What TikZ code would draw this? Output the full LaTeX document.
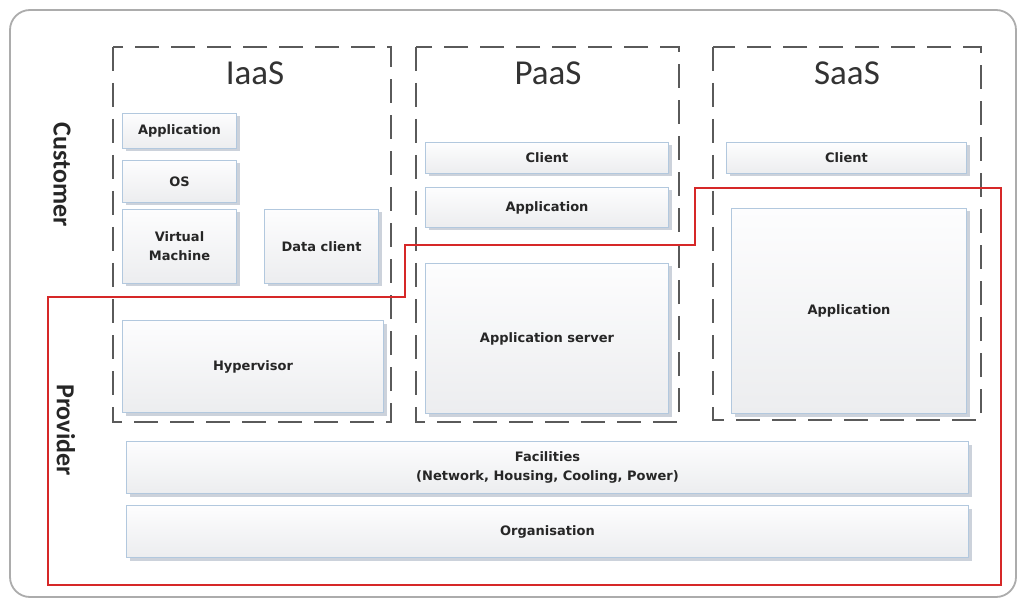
\documentclass[tikz,border=0pt]{standalone}
\usepackage{fontspec}
\setmainfont{Carlito}
\newfontfamily\boxfont{DejaVu Sans}
\usetikzlibrary{shadows}
\definecolor{boxborder}{RGB}{178,200,222}
\definecolor{boxtop}{RGB}{253,253,254}
\definecolor{boxbot}{RGB}{236,237,239}
\definecolor{shadowc}{RGB}{170,180,195}
\definecolor{dashc}{RGB}{90,90,90}
\definecolor{redline}{RGB}{214,40,40}
\tikzset{
  layerbox/.style={draw=boxborder, line width=1pt, top color=boxtop, bottom color=boxbot,
    inner sep=0pt, anchor=north west, align=center, font=\boxfont\fontsize{13}{19}\selectfont\bfseries,
    text=black!85, drop shadow={shadow xshift=3pt, shadow yshift=-3pt, fill=shadowc, opacity=0.6}},
  servicebox/.style={draw=dashc, line width=2pt, dash pattern=on 24pt off 12pt},
  title/.style={font=\fontsize{35}{40}\selectfont, text=black!80},
  side/.style={font=\fontsize{26}{30}\selectfont\bfseries, text=black!85, rotate=-90}
}
\begin{document}
\begin{tikzpicture}[x=1pt,y=-1pt]
\useasboundingbox (0,0) rectangle (1024,601);
% outer frame
\draw[draw=gray!65, line width=1.8pt, rounded corners=20pt, fill=white] (10,10) rectangle (1016,597);
% service dashed boxes
\draw[servicebox] (113,47) rectangle (391,422);
\draw[servicebox] (416,47) rectangle (679,422);
\draw[servicebox] (713,47) rectangle (981,420);
\node[title] (iaas) at (255,73) {IaaS};
\node[title] (paas) at (548,73) {PaaS};
\node[title] (saas) at (847,73) {SaaS};
% side labels
\node[side] (customer) at (62,175) {Customer};
\node[side] (provider) at (66,430) {Provider};
% IaaS column
\node[layerbox, minimum width=114pt, minimum height=35pt] (iapp) at (122,113) {Application};
\node[layerbox, minimum width=114pt, minimum height=42pt] (ios) at (122,160) {OS};
\node[layerbox, minimum width=114pt, minimum height=74pt] (ivm) at (122,209) {Virtual\\Machine};
\node[layerbox, minimum width=114pt, minimum height=74pt] (idata) at (264,209) {Data client};
\node[layerbox, minimum width=261pt, minimum height=92pt] (ihyp) at (122,320) {Hypervisor};
% PaaS column
\node[layerbox, minimum width=243pt, minimum height=31pt] (pclient) at (425,142) {Client};
\node[layerbox, minimum width=243pt, minimum height=40pt] (papp) at (425,187) {Application};
\node[layerbox, minimum width=243pt, minimum height=150pt] (pserver) at (425,263) {Application server};
% SaaS column
\node[layerbox, minimum width=240pt, minimum height=31pt] (sclient) at (726,142) {Client};
\node[layerbox, minimum width=235pt, minimum height=205pt] (sapp) at (731,208) {Application};
% common layers
\node[layerbox, minimum width=842pt, minimum height=52pt] (fac) at (126,441) {Facilities\\(Network, Housing, Cooling, Power)};
\node[layerbox, minimum width=842pt, minimum height=52pt] (org) at (126,505) {Organisation};
% provider boundary
\draw[redline, line width=1.4pt] (48,297) -- (405,297) -- (405,245) -- (695,245) -- (695,188) -- (1001,188) -- (1001,585) -- (48,585) -- cycle;
\end{tikzpicture}
\end{document}
